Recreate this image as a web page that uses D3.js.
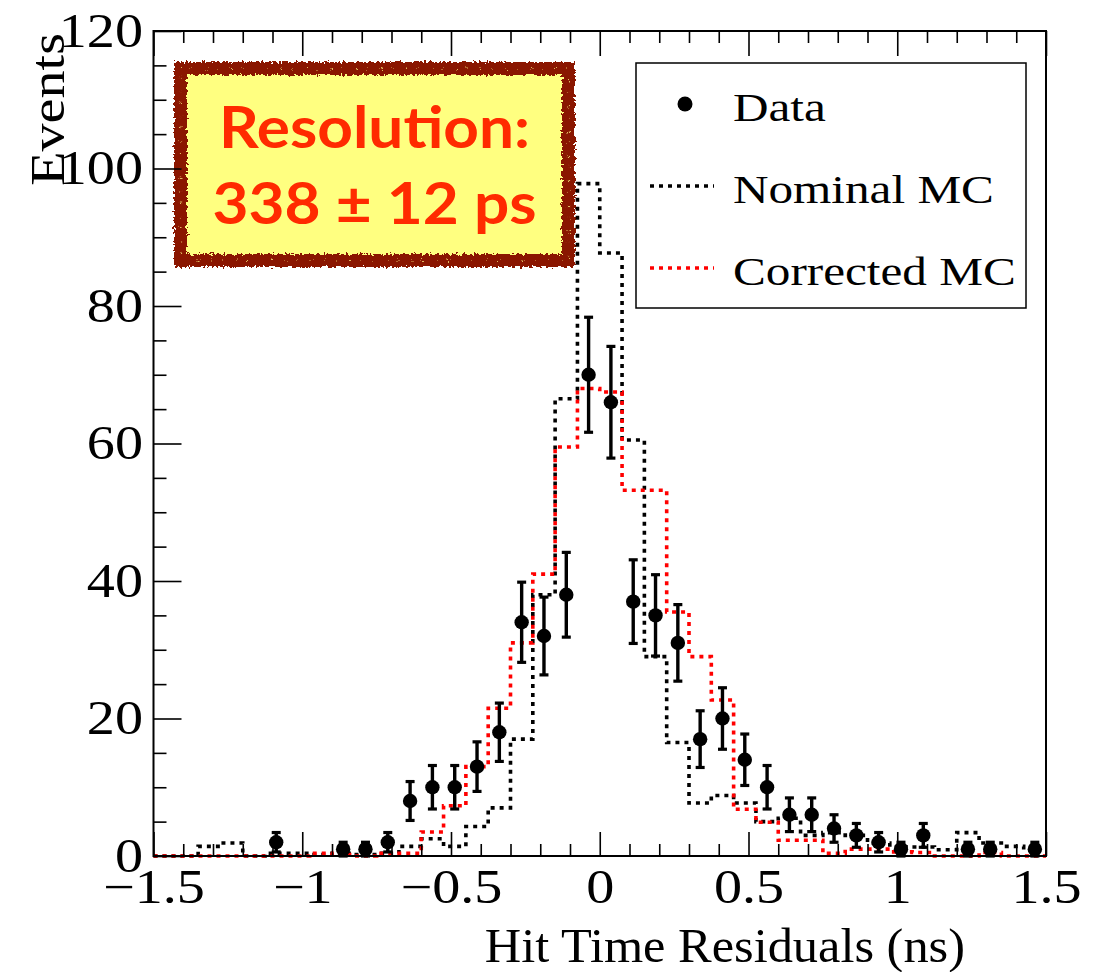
<!DOCTYPE html>
<html>
<head>
<meta charset="utf-8">
<script src="https://cdn.jsdelivr.net/npm/d3@7"></script>
<style>
  html, body { margin: 0; padding: 0; background: #ffffff; }
  svg { display: block; }
</style>
</head>
<body>
<svg id="chart" width="1099" height="972"></svg>
<script>
// ---- histogram binning ----
const xRange = [-1.5, 1.5];
const binCount = 40;
const yRange = [0, 120];

// ---- data: events per bin ----
const dataCounts = [0, 0, 0, 0, 0, 2, 0, 0, 1, 1,
                    2, 8, 10, 10, 13, 18, 34, 32, 38, 70,
                    66, 37, 35, 31, 17, 20, 14, 10, 6, 6,
                    4, 3, 2, 1, 3, 0, 1, 1, 0, 1];

// ---- simulation, nominal ----
const nominalMC = [0, 0, 1.4, 1.9, 0, 0.4, 0.4, 0.2, 0.4, 0.2,
                   0.4, 1.4, 2.5, 1.4, 4.3, 7, 17, 38, 66.5, 97.8,
                   87.7, 60.5, 29, 16.5, 7.7, 8.8, 7.7, 5, 5.5, 3,
                   3.4, 3, 1.9, 1.35, 1.3, 0.9, 3.4, 1.9, 1.4, 0.9];

// ---- simulation, corrected ----
const correctedMC = [0, 0, 0, 0, 0, 0, 0, 0.4, 0.2, 0,
                     0.4, 0.4, 3.5, 7.3, 13, 21.5, 31, 41, 59.5, 68,
                     67.5, 53.2, 53.2, 35.5, 29, 22.7, 6.8, 4.9, 2.3, 2.3,
                     0.4, 1, 1, 0.6, 0.5, 0, 0, 0.5, 0, 0];

// ---- axes and labels ----
const xMajorTicks = [-1.5, -1, -0.5, 0, 0.5, 1, 1.5];
const yMajorTicks = [0, 20, 40, 60, 80, 100, 120];
const xMinorStep = 0.1;
const yMinorStep = 5;
const xTitle = "Hit Time Residuals (ns)";
const yTitle = "Events";
const legendLabels = ["Data", "Nominal MC", "Corrected MC"];
const noteLines = ["Resolution:", "338 \u00b1 12 ps"];

// ---- layout ----
const frame = { left: 153.5, right: 1046, top: 31, bottom: 856 };
const serif = "'Liberation Serif', 'Times New Roman', serif";
const wide = 1.17;          // horizontal stretch for the serif lettering

const svg = d3.select("#chart");
const x = d3.scaleLinear().domain(xRange).range([frame.left, frame.right]);
const y = d3.scaleLinear().domain(yRange).range([frame.bottom, frame.top]);

const binWidth = (xRange[1] - xRange[0]) / binCount;
const edges = d3.range(binCount + 1).map(i => xRange[0] + i * binWidth);
const centers = d3.range(binCount).map(i => xRange[0] + (i + 0.5) * binWidth);

const xMinor = d3.range(Math.round((xRange[1] - xRange[0]) / xMinorStep) + 1)
  .map(i => +(xRange[0] + i * xMinorStep).toFixed(2))
  .filter(v => !xMajorTicks.some(t => Math.abs(t - v) < 1e-6));
const yMinor = d3.range(yRange[0], yRange[1] + 1, yMinorStep)
  .filter(v => !yMajorTicks.includes(v));

// ---- annotation box (drawn under the frame) ----
const defs = svg.append("defs");
const rough = defs.append("filter").attr("id", "rough")
  .attr("x", "-10%").attr("y", "-10%").attr("width", "120%").attr("height", "120%");
rough.append("feTurbulence").attr("type", "fractalNoise").attr("baseFrequency", 0.35)
  .attr("numOctaves", 2).attr("seed", 7).attr("result", "noise");
rough.append("feDisplacementMap").attr("in", "SourceGraphic").attr("in2", "noise")
  .attr("scale", 7).attr("xChannelSelector", "R").attr("yChannelSelector", "G");

const speck = defs.append("filter").attr("id", "speck")
  .attr("x", "-10%").attr("y", "-10%").attr("width", "120%").attr("height", "120%");
speck.append("feTurbulence").attr("type", "fractalNoise").attr("baseFrequency", 0.6)
  .attr("numOctaves", 1).attr("seed", 3).attr("result", "noise");
speck.append("feDisplacementMap").attr("in", "SourceGraphic").attr("in2", "noise")
  .attr("scale", 9).attr("xChannelSelector", "R").attr("yChannelSelector", "G");

const note = svg.append("g");
const box = { x0: 174, y0: 62, x1: 575, y1: 267, edge: 13 };
note.append("rect")
  .attr("x", box.x0 + 6).attr("y", box.y0 + 6)
  .attr("width", box.x1 - box.x0 - 12).attr("height", box.y1 - box.y0 - 12)
  .attr("fill", "#ffff80");
note.append("rect")
  .attr("x", box.x0 + box.edge / 2).attr("y", box.y0 + box.edge / 2)
  .attr("width", box.x1 - box.x0 - box.edge).attr("height", box.y1 - box.y0 - box.edge)
  .attr("fill", "none").attr("stroke", "#8a1400").attr("stroke-width", box.edge)
  .attr("filter", "url(#rough)");
note.append("rect")
  .attr("x", box.x0 + box.edge / 2).attr("y", box.y0 + box.edge / 2)
  .attr("width", box.x1 - box.x0 - box.edge).attr("height", box.y1 - box.y0 - box.edge)
  .attr("fill", "none").attr("stroke", "#f6e27a").attr("stroke-width", 1.2)
  .attr("stroke-dasharray", "2 9 1 13").attr("opacity", 0.8)
  .attr("filter", "url(#speck)");
note.selectAll("text.note").data(noteLines).join("text")
  .attr("class", "note")
  .attr("transform", (d, i) => `translate(${(box.x0 + box.x1) / 2},${148 + i * 76}) scale(1.09,1)`)
  .attr("text-anchor", "middle")
  .attr("font-family", "Lato, 'Open Sans', sans-serif")
  .attr("font-weight", 700)
  .attr("font-size", 57)
  .attr("fill", "#ff2a00")
  .text(d => d);

// ---- histograms ----
const step = d3.line()
  .x(d => x(d[0])).y(d => y(d[1]))
  .curve(d3.curveStepAfter);
function stepPoints(vals) {
  const pts = vals.map((v, i) => [edges[i], v]);
  pts.push([edges[binCount], vals[binCount - 1]]);
  return pts;
}
const histG = svg.append("g");
histG.append("path")
  .attr("d", step(stepPoints(nominalMC)))
  .attr("fill", "none").attr("stroke", "#000000")
  .attr("stroke-width", 3.6).attr("stroke-dasharray", "4 5");
histG.append("path")
  .attr("d", step(stepPoints(correctedMC)))
  .attr("fill", "none").attr("stroke", "#ff0000")
  .attr("stroke-width", 3.6).attr("stroke-dasharray", "4 5");

// ---- data points with Poisson errors ----
const pts = centers.map((c, i) => ({ c, n: dataCounts[i] })).filter(d => d.n > 0);
const dataG = svg.append("g");
const errG = dataG.selectAll("g.err").data(pts).join("g").attr("class", "err");
errG.append("line")
  .attr("x1", d => x(d.c)).attr("x2", d => x(d.c))
  .attr("y1", d => y(Math.max(0, d.n - Math.sqrt(d.n))))
  .attr("y2", d => y(d.n + Math.sqrt(d.n)))
  .attr("stroke", "#000").attr("stroke-width", 3.4);
[-1, 1].forEach(s => {
  errG.append("line")
    .attr("x1", d => x(d.c) - 4.5).attr("x2", d => x(d.c) + 4.5)
    .attr("y1", d => y(Math.max(0, d.n + s * Math.sqrt(d.n))))
    .attr("y2", d => y(Math.max(0, d.n + s * Math.sqrt(d.n))))
    .attr("stroke", "#000").attr("stroke-width", 3.2);
});
errG.append("circle")
  .attr("cx", d => x(d.c)).attr("cy", d => y(d.n)).attr("r", 7.2)
  .attr("fill", "#000");

// ---- frame and axes ----
const axG = svg.append("g");
axG.append("rect")
  .attr("x", frame.left).attr("y", frame.top)
  .attr("width", frame.right - frame.left).attr("height", frame.bottom - frame.top)
  .attr("fill", "none").attr("stroke", "#000").attr("stroke-width", 2);

function styleTicks(g) {
  g.select(".domain").remove();
  g.selectAll(".tick line").attr("stroke", "#000").attr("stroke-width", 1.6);
}

// bottom
axG.append("g").attr("transform", `translate(0,${frame.bottom})`)
  .call(d3.axisBottom(x).tickValues(xMinor).tickSize(-12).tickFormat(""))
  .call(styleTicks);
const xAxisG = axG.append("g").attr("transform", `translate(0,${frame.bottom})`)
  .call(d3.axisBottom(x).tickValues(xMajorTicks).tickSize(-24).tickPadding(13)
    .tickFormat(d => d3.format("")(d).replace("-", "\u2212")))
  .call(styleTicks);
xAxisG.selectAll(".tick text")
  .attr("font-family", serif).attr("font-size", 48).attr("fill", "#000")
  .attr("transform", `scale(${wide},1)`);

// top
axG.append("g").attr("transform", `translate(0,${frame.top})`)
  .call(d3.axisTop(x).tickValues(xMinor).tickSize(-12).tickFormat(""))
  .call(styleTicks);
axG.append("g").attr("transform", `translate(0,${frame.top})`)
  .call(d3.axisTop(x).tickValues(xMajorTicks).tickSize(-25).tickFormat(""))
  .call(styleTicks);

// left
axG.append("g").attr("transform", `translate(${frame.left},0)`)
  .call(d3.axisLeft(y).tickValues(yMinor).tickSize(-13).tickFormat(""))
  .call(styleTicks);
const yAxisG = axG.append("g").attr("transform", `translate(${frame.left},0)`)
  .call(d3.axisLeft(y).tickValues(yMajorTicks).tickSize(-28).tickFormat(d3.format("d")))
  .call(styleTicks);
yAxisG.selectAll(".tick text")
  .attr("font-family", serif).attr("font-size", 48).attr("fill", "#000")
  .attr("x", -10.5 / wide)
  .attr("transform", `scale(${wide},1)`);

// titles
svg.append("text")
  .attr("transform", `translate(965,962) scale(1.05,1)`)
  .attr("text-anchor", "end")
  .attr("font-family", serif).attr("font-size", 48).attr("fill", "#000")
  .text(xTitle);
svg.append("text")
  .attr("transform", `translate(64,33) rotate(-90) scale(${wide},1)`)
  .attr("text-anchor", "end")
  .attr("font-family", serif).attr("font-size", 48).attr("fill", "#000")
  .text(yTitle);

// ---- legend ----
const leg = svg.append("g");
leg.append("rect")
  .attr("x", 636).attr("y", 63).attr("width", 390).attr("height", 245)
  .attr("fill", "#fff").attr("stroke", "#000").attr("stroke-width", 1.5);
const rowY = [104, 186, 268];
leg.append("circle").attr("cx", 685).attr("cy", rowY[0]).attr("r", 7.5).attr("fill", "#000");
leg.append("line").attr("x1", 650).attr("x2", 714).attr("y1", rowY[1]).attr("y2", rowY[1])
  .attr("stroke", "#000").attr("stroke-width", 3.6).attr("stroke-dasharray", "4 5");
leg.append("line").attr("x1", 650).attr("x2", 714).attr("y1", rowY[2]).attr("y2", rowY[2])
  .attr("stroke", "#ff0000").attr("stroke-width", 3.6).attr("stroke-dasharray", "4 5");
leg.selectAll("text.lab").data(legendLabels).join("text")
  .attr("class", "lab")
  .attr("transform", (d, i) => `translate(733,${rowY[i] + 16.5}) scale(1.2,1)`)
  .attr("font-family", serif).attr("font-size", 41).attr("fill", "#000")
  .text(d => d);
</script>
</body>
</html>
